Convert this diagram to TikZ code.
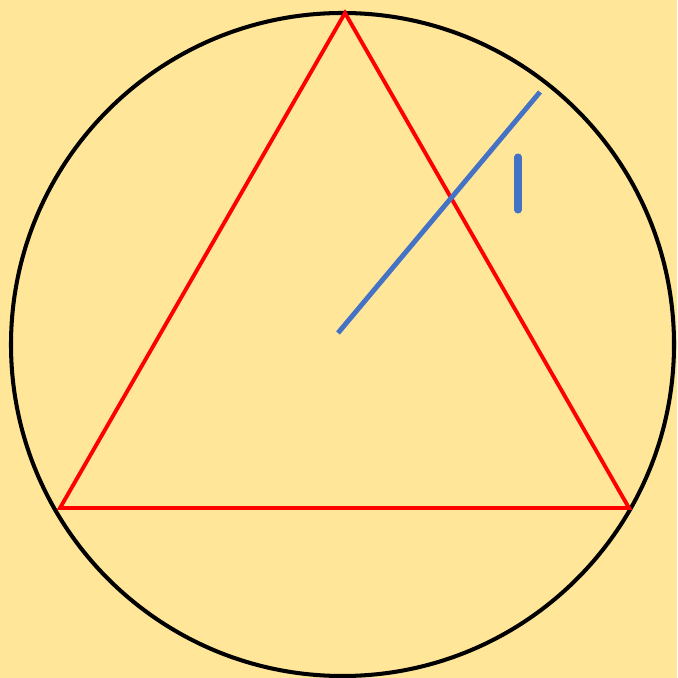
\documentclass[tikz,border=0pt]{standalone}
\usepackage{tikz}
\usetikzlibrary{positioning}

\definecolor{bgyellow}{HTML}{FFE699}
\definecolor{radblue}{HTML}{4472C4}

\begin{document}
\begin{tikzpicture}[
        x=0.02cm, y=-0.02cm,
        circ/.style={draw=black, line width=2.3pt},
        tri/.style={draw=red, line width=2.2pt, line join=miter},
        radius line/.style={draw=radblue, line width=2.8pt},
        tick mark/.style={draw=radblue, line width=4pt, line cap=round}
    ]
        \fill[bgyellow] (0,0) rectangle (677,678);
        \useasboundingbox (0,0) rectangle (677,678);
\coordinate (o) at (342.5,344.5);
        \coordinate (a) at (345,13);
        \coordinate (b) at (60,508);
        \coordinate (c) at (629,508);
        \coordinate (m) at (338,333);
        \coordinate (r) at (540,92);
        \coordinate (t1) at (518,157);
        \coordinate (t2) at (518,210);
\path[circ] (o) circle[radius=331.5];
        \path[tri] (a) -- (b) -- (c) -- cycle;
        \path[radius line] (m) -- (r);
        \path[tick mark] (t1) -- (t2);
\end{tikzpicture}
\end{document}
